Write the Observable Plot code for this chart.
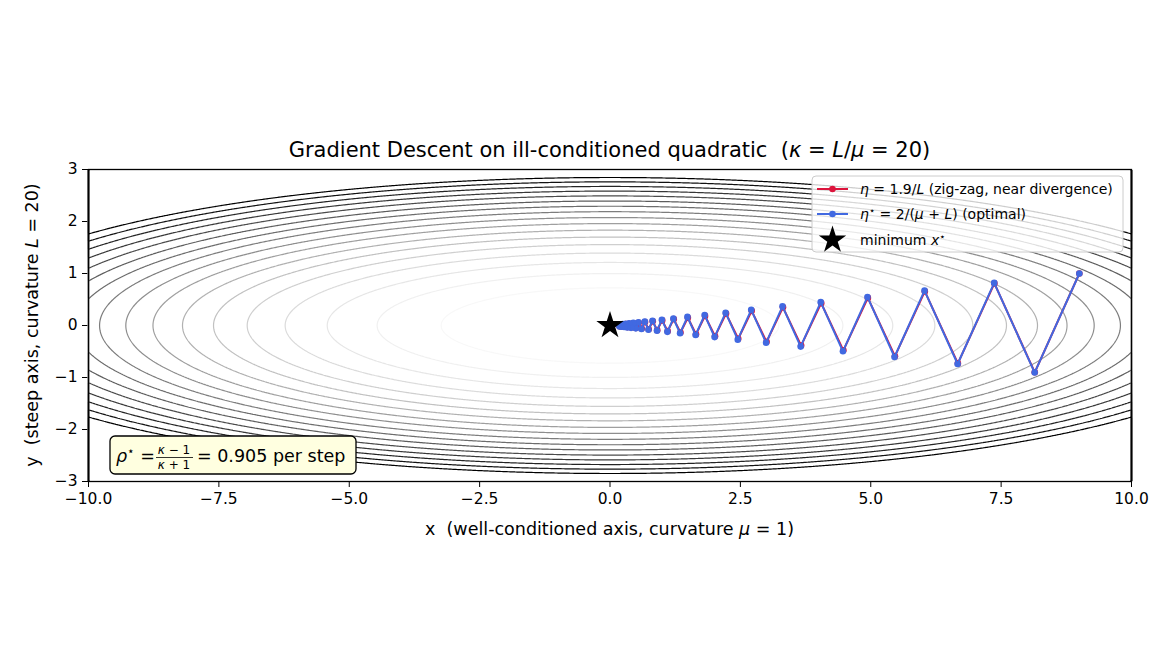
<!DOCTYPE html>
<html><head><meta charset="utf-8">
<script src="https://cdn.jsdelivr.net/npm/d3@7"></script>
<script src="https://cdn.jsdelivr.net/npm/@observablehq/plot@0.6"></script>
<style>
body{margin:0;background:#fff}
#chart svg{display:block}
</style>
</head><body><div id="chart"></div>
<script>
// quadratic f(x,y) = 0.5*(mu*x^2 + L*y^2)
const MU = 1, L = 20;
// contour levels
const levels = [0.5, 5.24, 9.97, 14.7, 19.4, 24.2, 28.9, 33.6, 38.4, 43.1, 47.9, 52.6, 57.3, 62.1, 66.8, 71.5, 76.3, 81.0];
const xTicks = [-10, -7.5, -5, -2.5, 0, 2.5, 5, 7.5, 10];
const yTicks = [-3, -2, -1, 0, 1, 2, 3];
// eta = 1.9/L iterates
const redX = [9, 8.145, 7.371, 6.671, 6.037, 5.464, 4.945, 4.475, 4.050, 3.665, 3.317, 3.002, 2.717, 2.459, 2.225, 2.014, 1.822, 1.649, 1.493, 1.351, 1.222, 1.106, 1.001, 0.906, 0.820, 0.742, 0.672, 0.608, 0.550, 0.498, 0.451, 0.408, 0.369, 0.334, 0.302, 0.273, 0.248, 0.224, 0.203, 0.183, 0.166];
const redY = [1, -0.9, 0.81, -0.729, 0.656, -0.590, 0.531, -0.478, 0.430, -0.387, 0.349, -0.314, 0.282, -0.254, 0.229, -0.206, 0.185, -0.167, 0.150, -0.135, 0.122, -0.109, 0.098, -0.089, 0.080, -0.072, 0.065, -0.058, 0.052, -0.047, 0.042, -0.038, 0.034, -0.031, 0.028, -0.025, 0.023, -0.020, 0.018, -0.016, 0.015];
// eta* = 2/(mu+L) iterates
const blueX = [9, 8.143, 7.367, 6.666, 6.031, 5.456, 4.937, 4.467, 4.041, 3.656, 3.308, 2.993, 2.708, 2.450, 2.217, 2.006, 1.815, 1.642, 1.485, 1.344, 1.216, 1.100, 0.995, 0.901, 0.815, 0.737, 0.667, 0.603, 0.546, 0.494, 0.447, 0.404, 0.366, 0.331, 0.300, 0.271, 0.245, 0.222, 0.201, 0.182, 0.164];
const blueY = [1, -0.905, 0.819, -0.741, 0.670, -0.606, 0.549, -0.496, 0.449, -0.406, 0.368, -0.333, 0.301, -0.272, 0.246, -0.223, 0.202, -0.182, 0.165, -0.149, 0.135, -0.122, 0.111, -0.100, 0.091, -0.082, 0.074, -0.067, 0.061, -0.055, 0.050, -0.045, 0.041, -0.037, 0.033, -0.030, 0.027, -0.025, 0.022, -0.020, 0.018];
const minimum = [{x: 0, y: 0}];

const RED = "#dc143c", BLUE = "#4169e1";
const red = redX.map((x, i) => ({x, y: redY[i]}));
const blue = blueX.map((x, i) => ({x, y: blueY[i]}));

const plot = Plot.plot({
  width: 1170, height: 650,
  marginLeft: 88, marginRight: 39, marginTop: 169, marginBottom: 169,
  style: {fontFamily: "DejaVu Sans", fontSize: "15.5px", background: "white", color: "black", overflow: "visible"},
  x: {domain: [-10, 10], ticks: xTicks, tickFormat: d3.format(".1f"), tickSize: 6, tickPadding: 5, label: null},
  y: {domain: [-3, 3], ticks: yTicks, tickFormat: d3.format("d"), tickSize: 6, tickPadding: 5, label: null},
  color: {type: "linear", scheme: "greys", domain: [levels[0], levels[levels.length - 1]]},
  marks: [
    Plot.contour({value: (x, y) => 0.5 * (MU * x * x + L * y * y), x1: -10, x2: 10, y1: -3, y2: 3,
      thresholds: levels, stroke: "value", fill: "none", strokeWidth: 1.2, pixelSize: 1}),
    Plot.line(red, {x: "x", y: "y", stroke: RED, strokeWidth: 2}),
    Plot.dot(red, {x: "x", y: "y", fill: RED, r: 3.3}),
    Plot.line(blue, {x: "x", y: "y", stroke: BLUE, strokeWidth: 2}),
    Plot.dot(blue, {x: "x", y: "y", fill: BLUE, r: 3.3}),
    Plot.dot(minimum, {x: "x", y: "y", symbol: "star", r: 8.6, fill: "black"}),
    Plot.frame({stroke: "black", strokeWidth: 1.3})
  ]
});
document.getElementById("chart").appendChild(plot);

const svg = d3.select(plot);
function txt(parent, x, y, size, anchor) {
  return parent.append("text").attr("x", x).attr("y", y)
    .attr("font-family", "DejaVu Sans").attr("font-size", size).attr("fill", "black")
    .attr("text-anchor", anchor || "start").attr("xml:space", "preserve");
}
function add(t, s, opts = {}) {
  const sp = t.append("tspan").text(s);
  if (opts.it) sp.attr("font-style", "italic");
  if (opts.size) sp.attr("font-size", opts.size);
  if (opts.dy) sp.attr("dy", opts.dy);
  return sp;
}
// title
{
  const t = txt(svg, 609.5, 157, 21, "middle");
  add(t, "Gradient Descent on ill-conditioned quadratic  ("); add(t, "κ", {it: 1}); add(t, " = ");
  add(t, "L", {it: 1}); add(t, "/"); add(t, "μ", {it: 1}); add(t, " = 20)");
}
// axis labels
{
  const t = txt(svg, 609.5, 535, 17.5, "middle");
  add(t, "x  (well-conditioned axis, curvature "); add(t, "μ", {it: 1}); add(t, " = 1)");
  const u = txt(svg, 0, 0, 17.5, "middle").attr("transform", "translate(38,325) rotate(-90)");
  add(u, "y  (steep axis, curvature "); add(u, "L", {it: 1}); add(u, " = 20)");
}
// legend
const lg = svg.append("g");
lg.append("rect").attr("x", 812).attr("y", 176).attr("width", 311).attr("height", 76).attr("rx", 4)
  .attr("fill", "white").attr("fill-opacity", 0.8).attr("stroke", "#cccccc");
[[RED, 189], [BLUE, 214]].forEach(([c, y]) => {
  lg.append("line").attr("x1", 817).attr("x2", 848).attr("y1", y).attr("y2", y).attr("stroke", c).attr("stroke-width", 2);
  lg.append("circle").attr("cx", 832.5).attr("cy", y).attr("r", 3.3).attr("fill", c);
});
{
  const t1 = txt(lg, 860, 194, 14);
  add(t1, "η", {it: 1}); add(t1, " = 1.9/"); add(t1, "L", {it: 1}); add(t1, " (zig-zag, near divergence)");
  const t2 = txt(lg, 860, 219, 14);
  add(t2, "η", {it: 1}); add(t2, "⋆", {size: 10, dy: -5}); add(t2, " = 2/(", {dy: 5});
  add(t2, "μ", {it: 1}); add(t2, " + "); add(t2, "L", {it: 1}); add(t2, ") (optimal)");
  lg.append("path").attr("d", d3.symbol(d3.symbolStar, Math.PI * 8.6 * 8.6)()).attr("transform", "translate(832.5,240)").attr("fill", "black");
  const t3 = txt(lg, 860, 245, 14);
  add(t3, "minimum "); add(t3, "x", {it: 1}); add(t3, "⋆", {size: 10, dy: -5});
}
// annotation box
const an = svg.append("g");
an.append("rect").attr("x", 110).attr("y", 436).attr("width", 246).attr("height", 38).attr("rx", 5)
  .attr("fill", "#ffffe0").attr("stroke", "black").attr("stroke-width", 1.3);
{
  const a1 = txt(an, 116, 462, 17.5);
  add(a1, "ρ", {it: 1}); add(a1, "⋆", {size: 12, dy: -7}); add(a1, " =", {dy: 7});
  const n = txt(an, 174, 454, 12, "middle");
  add(n, "κ", {it: 1}); add(n, " − 1");
  an.append("line").attr("x1", 156).attr("x2", 193).attr("y1", 457.5).attr("y2", 457.5).attr("stroke", "black").attr("stroke-width", 0.8);
  const d = txt(an, 174, 469, 12, "middle");
  add(d, "κ", {it: 1}); add(d, " + 1");
  const r = txt(an, 197, 462, 17.5);
  add(r, "= 0.905 per step");
}
</script>
</body></html>
